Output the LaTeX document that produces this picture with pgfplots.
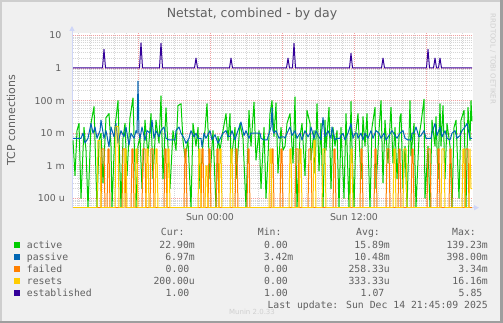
\documentclass[border=0pt]{standalone}
\usepackage{pgfplots}
\pgfplotsset{compat=1.18}
\usetikzlibrary{arrows.meta}
\usepackage{fontspec}
\setmainfont{DejaVu Sans}
\newfontfamily\monofont{DejaVu Sans Mono}
\definecolor{bgc}{HTML}{F0F0F0}
\definecolor{shadea}{HTML}{CECECE}
\definecolor{shadeb}{HTML}{9E9E9E}
\definecolor{fontc}{HTML}{606060}
\definecolor{axisc}{HTML}{CFD6F8}
\definecolor{gridc}{HTML}{D6D6D6}
\definecolor{mgridc}{HTML}{F0A0A0}
\definecolor{cactive}{HTML}{00CC00}
\definecolor{cpassive}{HTML}{0066B3}
\definecolor{cfailed}{HTML}{FF8000}
\definecolor{cresets}{HTML}{FFCC00}
\definecolor{cestab}{HTML}{330099}
\definecolor{wmc}{HTML}{D0D0D0}

% x = time in 5-minute steps from Sun 00:00 ; zero values are stored as the bottom of the scale (5.19e-5)
\pgfplotstableread{
t v
-137 0.006
-135 0.0005
-133 0.012
-131 0.020
-129 0.0001
-126 0.015
-124 0.003
-122 5.19e-5
-119 0.020
-116 0.065
-113 5.19e-5
-111 0.006
-109 0.010
-107 0.0003
-104 0.030
-101 0.040
-99 0.004
-98 5.19e-5
-95 0.015
-92 0.100
-89 5.19e-5
-87 0.007
-85 0.020
-83 0.0005
-80 0.030
-77 0.120
-74 5.19e-5
-72 0.004
-70 0.008
-68 0.0002
-65 0.025
-62 0.002
-59 0.040
-57 0.0004
-54 0.025
-51 0.005
-49 0.139
-47 0.0004
-44 0.060
-42 0.004
-40 0.0002
-37 0.012
-34 0.003
-32 0.070
-29 0.080
-27 0.006
-25 0.0018
-22 0.006
-19 5.19e-5
-17 0.020
-14 0.004
-12 0.015
-10 0.0002
-7 0.005
-5 0.012
-3 0.080
0 0.0004
3 0.012
6 5.19e-5
8 0.008
10 0.003
13 0.012
16 0.040
18 0.006
20 0.040
21 0.0012
25 0.015
26 0.0004
30 0.020
33 0.007
36 5.19e-5
39 0.050
41 0.004
44 0.090
46 0.0015
49 0.012
51 0.0002
54 0.015
56 0.0001
60 0.040
62 0.100
64 0.008
66 0.085
68 0.0006
71 0.015
73 0.003
75 0.004
77 0.020
80 0.040
83 0.0012
85 0.130
87 5.19e-5
90 0.008
92 0.020
95 0.0005
97 0.050
100 0.020
101 0.0015
104 0.012
105 0.0006
107 0.080
109 0.0007
111 0.020
113 5.19e-5
115 0.025
116 0.003
119 0.062
121 0.0002
123 0.015
125 0.004
127 0.012
129 5.19e-5
131 0.015
134 0.0001
136 0.040
139 5.19e-5
141 0.095
142 0.004
144 5.19e-5
146 0.012
148 0.040
151 0.0004
153 0.032
155 0.004
157 0.040
160 5.19e-5
162 0.015
165 0.062
166 0.0002
169 0.012
171 0.100
173 0.0003
175 0.025
178 0.0012
180 0.020
181 0.062
183 0.0012
185 0.015
187 0.0004
190 0.032
191 0.040
193 0.0002
195 0.004
197 5.19e-5
200 0.100
201 0.002
204 0.020
206 5.19e-5
209 0.008
211 0.020
214 0.110
215 0.0001
218 0.004
220 5.19e-5
222 0.025
225 0.004
226 0.032
228 0.0004
230 0.080
231 0.004
233 0.070
235 0.0004
237 0.020
240 0.004
242 5.19e-5
244 0.015
246 0.025
249 0.0001
251 0.025
254 0.050
256 5.19e-5
258 0.062
260 0.006
261 0.100
262 0.0229
}\tactive

\pgfplotstableread{
t v
-137 0.007
-129 0.007
-127 0.010
-125 0.005
-122 0.007
-119 0.020
-117 0.010
-115 0.0155
-113 0.007
-110 0.012
-109 0.025
-106 0.007
-104 0.012
-101 0.0038
-99 0.0155
-96 0.0077
-94 0.020
-92 0.005
-89 0.012
-86 0.0077
-84 0.0155
-81 0.0043
-79 0.010
-76 0.007
-74 0.012
-73 0.010
-72 0.398
-71 0.010
-70 0.007
-68 0.0155
-65 0.006
-63 0.012
-60 0.010
-59 0.0155
-58 0.025
-56 0.007
-54 0.012
-51 0.0077
-49 0.012
-46 0.0155
-44 0.007
-41 0.0062
-35 0.0062
-34 0.012
-31 0.0155
-29 0.010
-26 0.007
-24 0.0049
-21 0.007
-19 0.012
-16 0.0077
-14 0.010
-12 0.007
-9 0.007
-8 0.0038
-6 0.010
-4 0.007
0 0.012
2 0.0062
5 0.009
8 0.0049
11 0.0077
13 0.010
16 0.012
18 0.0080
20 0.008
22 0.012
25 0.0062
27 0.010
31 0.022
34 0.0085
36 0.012
39 0.007
41 0.010
50 0.010
51 0.007
54 0.0062
57 0.0062
58 0.0077
61 0.0155
62 0.060
63 0.012
64 0.010
66 0.012
69 0.007
71 0.0077
74 0.0077
75 0.007
77 0.010
80 0.0155
82 0.0085
85 0.012
87 0.007
90 0.010
92 0.0062
95 0.012
98 0.0077
100 0.010
101 0.0155
104 0.007
106 0.012
109 0.0077
111 0.0062
113 0.030
115 0.0077
118 0.012
121 0.007
122 0.0155
125 0.0062
127 0.007
130 0.007
131 0.0085
133 0.010
135 0.0062
138 0.010
141 0.020
143 0.007
145 0.010
147 0.010
148 0.007
151 0.010
153 0.0062
155 0.010
158 0.007
161 0.012
163 0.007
166 0.012
169 0.010
171 0.007
174 0.010
176 0.0062
179 0.0085
182 0.012
185 0.0085
187 0.007
190 0.010
193 0.012
195 0.007
198 0.0062
201 0.0062
202 0.010
204 0.010
206 0.0155
209 0.0077
211 0.0085
214 0.012
216 0.007
221 0.007
222 0.010
225 0.020
227 0.0085
230 0.0155
232 0.0077
235 0.012
237 0.007
240 0.0062
242 0.010
245 0.012
247 0.007
250 0.0085
252 0.012
255 0.0155
257 0.020
260 0.007
262 0.00697
}\tpassive

\pgfplotstableread{
t v
-137 5.19e-5
-109 5.19e-5
-108 0.00333
-106 0.00333
-105 5.19e-5
-103 5.19e-5
-102 0.00333
-101 0.00333
-100 5.19e-5
-88 5.19e-5
-87 0.00333
-85 0.00333
-84 5.19e-5
-79 5.19e-5
-78 0.00333
-77 0.00333
-76 5.19e-5
-68 5.19e-5
-67 0.00333
-65 0.00333
-64 5.19e-5
-60 5.19e-5
-59 0.00333
-57 0.00333
-56 5.19e-5
-46 5.19e-5
-45 0.00333
-44 0.00333
-43 5.19e-5
-26 5.19e-5
-25 0.00333
-24 0.00333
-23 5.19e-5
-9 5.19e-5
-8 0.00333
-7 0.00333
-6 5.19e-5
-2 5.19e-5
-1 0.00333
0 0.00333
1 5.19e-5
6 5.19e-5
7 0.00333
8 0.00333
9 5.19e-5
25 5.19e-5
26 0.00333
27 0.00333
28 5.19e-5
37 5.19e-5
38 0.00333
39 0.00333
40 5.19e-5
61 5.19e-5
62 0.00333
63 0.00333
64 5.19e-5
70 5.19e-5
71 0.00333
72 0.00333
73 5.19e-5
85 5.19e-5
86 0.00333
88 0.00333
89 5.19e-5
98 5.19e-5
99 0.00333
101 0.00333
102 5.19e-5
123 5.19e-5
124 0.00333
125 0.00333
126 5.19e-5
150 5.19e-5
151 0.00333
152 0.00333
153 5.19e-5
164 5.19e-5
165 0.00333
166 0.00333
167 5.19e-5
176 5.19e-5
177 0.00333
179 0.00333
180 5.19e-5
188 5.19e-5
189 0.00333
190 0.00333
191 5.19e-5
201 5.19e-5
202 0.00333
203 0.00333
204 5.19e-5
217 5.19e-5
218 0.00333
220 0.00333
221 5.19e-5
227 5.19e-5
228 0.00333
229 0.00333
230 5.19e-5
239 5.19e-5
240 0.00333
241 0.00333
242 5.19e-5
255 5.19e-5
256 0.00333
258 0.00333
259 5.19e-5
262 5.19e-5
}\tfailed

\pgfplotstableread{
t v
-137 5.19e-5
-113 5.19e-5
-112 0.006
-110 0.006
-109 5.19e-5
-95 5.19e-5
-94 0.01616
-92 0.01616
-91 5.19e-5
-86 5.19e-5
-85 0.00333
-84 0.00333
-83 5.19e-5
-75 5.19e-5
-74 0.00333
-73 0.00333
-72 5.19e-5
-64 5.19e-5
-63 0.00333
-62 0.00333
-61 5.19e-5
-55 5.19e-5
-54 0.00333
-53 0.00333
-52 5.19e-5
-43 5.19e-5
-42 0.00333
-41 0.00333
-40 5.19e-5
-12 5.19e-5
-11 0.00333
-10 0.00333
-9 5.19e-5
-5 5.19e-5
-4 0.001
-3 0.001
-2 5.19e-5
9 5.19e-5
10 0.00333
11 0.00333
12 5.19e-5
20 5.19e-5
21 0.00333
22 0.00333
23 5.19e-5
59 5.19e-5
60 0.00333
61 0.00333
62 5.19e-5
79 5.19e-5
80 0.00333
81 0.00333
82 5.19e-5
89 5.19e-5
90 0.00333
91 0.00333
92 5.19e-5
103 5.19e-5
104 0.006
105 0.006
106 5.19e-5
112 5.19e-5
113 0.00333
115 0.00333
116 5.19e-5
140 5.19e-5
141 0.00333
142 0.00333
143 5.19e-5
183 5.19e-5
184 0.00333
185 0.00333
186 5.19e-5
193 5.19e-5
194 0.00333
196 0.00333
197 5.19e-5
231 5.19e-5
232 0.00333
234 0.00333
235 5.19e-5
252 5.19e-5
253 0.00333
254 0.00333
255 5.19e-5
259 5.19e-5
260 0.00333
261 0.0002
262 0.0002
}\tresets

\pgfplotstableread{
t v
-137 1
-107.5 1
-106 3.7
-104.5 1
-70.5 1
-69 5.85
-67.5 1
-50.5 1
-49 5.7
-47.5 1
-15.5 1
-14 2.0
-12.5 1
19.5 1
21 2.0
22.5 1
76.5 1
78 2.0
79.5 1
82.5 1
84 5.7
85.5 1
139.5 1
141 2.8
142.5 1
171.5 1
173 2.0
174.5 1
216.5 1
218 3.7
219.5 1
223.5 1
225 2.0
226.5 1
228.5 1
230 2.0
231.5 1
262 1
}\testab

\newcommand\lf{\monofont\fontsize{9.8}{11}\selectfont}
\newcommand\tf{\fontsize{9.4}{11}\selectfont}

\begin{document}
\begin{tikzpicture}[x=1pt,y=1pt]
\useasboundingbox (0,0) rectangle (503,323);
\fill[bgc] (0,0) rectangle (503,323);
\fill[shadea] (0,321) rectangle (503,323);
\fill[shadea] (0,0) rectangle (2,323);
\fill[shadeb] (500,0) rectangle (503,323);
\fill[shadeb] (0,0) rectangle (503,2);
% plot area
\fill[white] (72.5,115.3) rectangle (472.5,290.3);
% axes (drawn below the data)
\draw[axisc, line width=1pt, -{Triangle[length=5pt,width=5pt]}] (72,114.8) -- (72,297);
\draw[axisc, line width=1pt, -{Triangle[length=5pt,width=5pt]}] (71.5,115.3) -- (479,115.3);

\begin{axis}[
  at={(72.5pt,115.3pt)}, anchor=south west,
  scale only axis, width=400pt, height=175pt,
  ymode=log, xmin=-137.5, xmax=262.5, ymin=5.19e-5, ymax=12.1,
  axis line style={draw=none}, tick style={draw=none},
  xtick={-72,0,72,144,216}, xticklabels={},
  minor xtick={-132,-120,...,252},
  ytick={1e-4,1e-3,1e-2,1e-1,1,10}, yticklabels={},
  minor ytick={6e-5,7e-5,8e-5,9e-5,2e-4,3e-4,4e-4,5e-4,6e-4,7e-4,8e-4,9e-4,
    2e-3,3e-3,4e-3,5e-3,6e-3,7e-3,8e-3,9e-3,0.02,0.03,0.04,0.05,0.06,0.07,0.08,0.09,
    0.2,0.3,0.4,0.5,0.6,0.7,0.8,0.9,2,3,4,5,6,7,8,9},
  grid=both,
  minor grid style={draw=gridc, line width=0.6pt, dash pattern=on 1pt off 1pt},
  major grid style={draw=mgridc, line width=0.7pt, dash pattern=on 1pt off 1pt},
  every axis plot/.append style={line width=1pt, line join=round},
]
\addplot[cactive] table[x=t,y=v] {\tactive};
\addplot[cpassive] table[x=t,y=v] {\tpassive};
\addplot[cfailed] table[x=t,y=v] {\tfailed};
\addplot[cresets] table[x=t,y=v] {\tresets};
\addplot[cestab] table[x=t,y=v] {\testab};
\end{axis}

% tick labels
\begin{scope}[every node/.style={text=fontc, font=\tf, inner sep=0pt}]
\node[anchor=east] at (61.5,323-35.4) {10};
\node[anchor=east] at (61.5,323-68.0) {1};
\node[anchor=east] at (65,323-100.6) {100 m};
\node[anchor=east] at (65,323-133.2) {10 m};
\node[anchor=east] at (65,323-165.8) {1 m};
\node[anchor=east] at (65,323-198.4) {100 u};
\node[anchor=base] at (210,323-221) {Sun 00:00};
\node[anchor=base] at (354,323-221) {Sun 12:00};
\end{scope}

% title and axis label
\node[text=fontc, font=\fontsize{12.5}{14}\selectfont, anchor=base, inner sep=0pt] at (252,323-17.7) {Netstat, combined - by day};
\node[text=fontc, font=\fontsize{11}{13}\selectfont, rotate=90, inner sep=0pt] at (11,323-120) {TCP connections};

% watermark
\node[text=wmc, font=\fontsize{7}{8}\selectfont, rotate=-90, inner sep=0pt] at (493,323-59) {RRDTOOL / TOBI OETIKER};

% legend
\begin{scope}[every node/.style={text=fontc, font=\lf, inner sep=0pt}]
\node[anchor=base west] at (160.7,323-236) {Cur:};
\node[anchor=base west] at (257.7,323-236) {Min:};
\node[anchor=base west] at (356,323-236) {Avg:};
\node[anchor=base west] at (452,323-236) {Max:};

\fill[cactive] (14,323-248.5) rectangle (20,323-242.5);
\node[anchor=base west] at (26.7,323-249) {active};
\node[anchor=base east] at (195,323-249) {22.90m};
\node[anchor=base east] at (288,323-249) {0.00};
\node[anchor=base east] at (390,323-249) {15.89m};
\node[anchor=base east] at (488,323-249) {139.23m};

\fill[cpassive] (14,323-260.5) rectangle (20,323-254.5);
\node[anchor=base west] at (26.7,323-261) {passive};
\node[anchor=base east] at (195,323-261) {6.97m};
\node[anchor=base east] at (293.5,323-261) {3.42m};
\node[anchor=base east] at (390,323-261) {10.48m};
\node[anchor=base east] at (488,323-261) {398.00m};

\fill[cfailed] (14,323-272.5) rectangle (20,323-266.5);
\node[anchor=base west] at (26.7,323-273) {failed};
\node[anchor=base east] at (189.5,323-273) {0.00};
\node[anchor=base east] at (288,323-273) {0.00};
\node[anchor=base east] at (390,323-273) {258.33u};
\node[anchor=base east] at (488,323-273) {3.34m};

\fill[cresets] (14,323-284.5) rectangle (20,323-278.5);
\node[anchor=base west] at (26.7,323-285) {resets};
\node[anchor=base east] at (195,323-285) {200.00u};
\node[anchor=base east] at (288,323-285) {0.00};
\node[anchor=base east] at (390,323-285) {333.33u};
\node[anchor=base east] at (488,323-285) {16.16m};

\fill[cestab] (14,323-296.5) rectangle (20,323-290.5);
\node[anchor=base west] at (26.7,323-297) {established};
\node[anchor=base east] at (189.5,323-297) {1.00};
\node[anchor=base east] at (288,323-297) {1.00};
\node[anchor=base east] at (384.5,323-297) {1.07};
\node[anchor=base east] at (482.5,323-297) {5.85};

\node[anchor=base east] at (488,323-308.5) {Last update: Sun Dec 14 21:45:09 2025};
\end{scope}
\node[text=wmc, font=\fontsize{7}{8}\selectfont, anchor=base, inner sep=0pt] at (252,323-314.3) {Munin 2.0.33};
\end{tikzpicture}
\end{document}
